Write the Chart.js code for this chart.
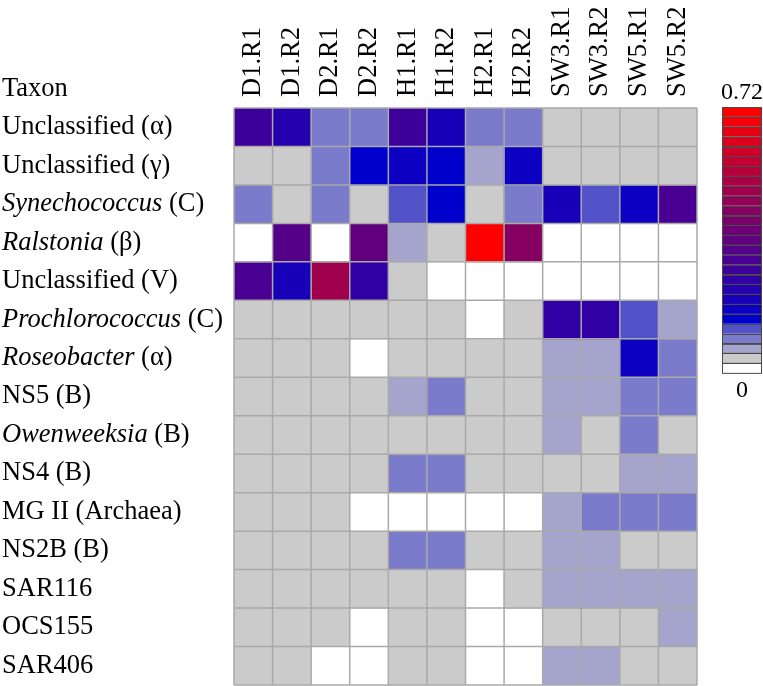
<!DOCTYPE html>
<html lang="en">
<head>
  <meta charset="UTF-8">
  <title>Taxon heatmap</title>
  <script src="https://cdn.jsdelivr.net/npm/chart.js"></script>
  <style>
    * { margin: 0; padding: 0; box-sizing: border-box; }
    body { background: #fff; width: 763px; height: 686px; overflow: hidden; }
    canvas { display: block; }
  </style>
</head>
<body>
  <canvas id="heatmap" width="763" height="686"></canvas>

  <script>
    const columns = ['D1.R1', 'D1.R2', 'D2.R1', 'D2.R2', 'H1.R1', 'H1.R2', 'H2.R1', 'H2.R2', 'SW3.R1', 'SW3.R2', 'SW5.R1', 'SW5.R2'];

    const taxa = ['Unclassified (α)', 'Unclassified (γ)', 'Synechococcus (C)', 'Ralstonia (β)', 'Unclassified (V)',
      'Prochlorococcus (C)', 'Roseobacter (α)', 'NS5 (B)', 'Owenweeksia (B)', 'NS4 (B)', 'MG II (Archaea)',
      'NS2B (B)', 'SAR116', 'OCS155', 'SAR406'];

    // genus part of the label that is set in italics
    const italicPart = ['', '', 'Synechococcus', 'Ralstonia', '', 'Prochlorococcus', 'Roseobacter', '',
      'Owenweeksia', '', '', '', '', '', ''];

    // relative abundance, one row per taxon, one value per sample
    const unclassAlpha = [0.28, 0.227, 0.093, 0.093, 0.28, 0.2, 0.093, 0.093, 0.04, 0.04, 0.04, 0.04];
    const unclassGamma = [0.04, 0.04, 0.093, 0.147, 0.173, 0.147, 0.067, 0.173, 0.04, 0.04, 0.04, 0.04];
    const synechococcus = [0.093, 0.04, 0.093, 0.04, 0.12, 0.147, 0.04, 0.093, 0.2, 0.12, 0.173, 0.307];
    const ralstonia = [0, 0.333, 0, 0.36, 0.067, 0.04, 0.707, 0.44, 0, 0, 0, 0];
    const unclassV = [0.307, 0.2, 0.493, 0.253, 0.04, 0, 0, 0, 0, 0, 0, 0];
    const prochlorococcus = [0.04, 0.04, 0.04, 0.04, 0.04, 0.04, 0, 0.04, 0.253, 0.253, 0.12, 0.067];
    const roseobacter = [0.04, 0.04, 0.04, 0, 0.04, 0.04, 0.04, 0.04, 0.067, 0.067, 0.173, 0.093];
    const ns5 = [0.04, 0.04, 0.04, 0.04, 0.067, 0.093, 0.04, 0.04, 0.067, 0.067, 0.093, 0.093];
    const owenweeksia = [0.04, 0.04, 0.04, 0.04, 0.04, 0.04, 0.04, 0.04, 0.067, 0.04, 0.093, 0.04];
    const ns4 = [0.04, 0.04, 0.04, 0.04, 0.093, 0.093, 0.04, 0.04, 0.04, 0.04, 0.067, 0.067];
    const mg2 = [0.04, 0.04, 0.04, 0, 0, 0, 0, 0, 0.067, 0.093, 0.093, 0.093];
    const ns2b = [0.04, 0.04, 0.04, 0.04, 0.093, 0.093, 0.04, 0.04, 0.067, 0.067, 0.04, 0.04];
    const sar116 = [0.04, 0.04, 0.04, 0.04, 0.04, 0.04, 0, 0.04, 0.067, 0.067, 0.067, 0.067];
    const ocs155 = [0.04, 0.04, 0.04, 0, 0.04, 0.04, 0, 0, 0.04, 0.04, 0.04, 0.067];
    const sar406 = [0.04, 0.04, 0, 0, 0.04, 0.04, 0, 0, 0.067, 0.067, 0.04, 0.04];

    const rows = [unclassAlpha, unclassGamma, synechococcus, ralstonia, unclassV, prochlorococcus, roseobacter,
      ns5, owenweeksia, ns4, mg2, ns2b, sar116, ocs155, sar406];

    const scaleMin = 0;
    const scaleMax = 0.72;
    const scaleLabels = ['0', '0.72'];
    const nBins = 27;

    // white, grey, three lavenders, blue, then blue -> red
    function binColor(i) {
      const fixed = ['#ffffff', '#cbcbcb', '#a4a4cc', '#7b7bcb', '#5252c9', '#0000cc'];
      if (i < fixed.length) return fixed[i];
      const t = (i - 5) / (nBins - 6);
      return `rgb(${Math.round(255 * t)},0,${Math.round(204 * (1 - t))})`;
    }

    function colorFor(v) {
      let bin = Math.floor((v - scaleMin) / (scaleMax - scaleMin) * nBins);
      bin = Math.max(0, Math.min(nBins - 1, bin));
      return binColor(bin);
    }

    const FONT = '"Liberation Serif", "Times New Roman", serif';
    const LABEL_SIZE = 26.5;

    const cellGrid = {
      id: 'cellGrid',
      afterDatasetsDraw(chart) {
        const { ctx, scales: { x, y } } = chart;
        const cw = x.getPixelForValue(1) - x.getPixelForValue(0);
        ctx.save();
        ctx.strokeStyle = '#a9a9a9';
        ctx.lineWidth = 1.5;
        ctx.beginPath();
        for (let j = 0; j <= columns.length; j++) {
          const px = x.getPixelForValue(0) - cw / 2 + j * cw;
          ctx.moveTo(px, y.getPixelForValue(0));
          ctx.lineTo(px, y.getPixelForValue(taxa.length));
        }
        for (let r = 0; r <= taxa.length; r++) {
          const py = y.getPixelForValue(r);
          ctx.moveTo(x.getPixelForValue(0) - cw / 2, py);
          ctx.lineTo(x.getPixelForValue(columns.length - 1) + cw / 2, py);
        }
        ctx.stroke();
        ctx.restore();
      }
    };

    const labelsPlugin = {
      id: 'labels',
      afterDraw(chart) {
        const { ctx, scales: { x, y } } = chart;
        ctx.save();
        ctx.fillStyle = '#000';
        ctx.textBaseline = 'middle';
        ctx.textAlign = 'left';

        // row labels
        ctx.font = `${LABEL_SIZE}px ${FONT}`;
        ctx.fillText('Taxon', 2, y.getPixelForValue(-0.5));
        taxa.forEach((t, r) => {
          const py = y.getPixelForValue(r + 0.5);
          let px = 2;
          const it = italicPart[r];
          if (it) {
            ctx.font = `italic ${LABEL_SIZE}px ${FONT}`;
            ctx.fillText(it, px, py);
            px += ctx.measureText(it).width;
          }
          ctx.font = `${LABEL_SIZE}px ${FONT}`;
          ctx.fillText(t.slice(it.length), px, py);
        });

        // column labels, rotated
        ctx.font = `${LABEL_SIZE}px ${FONT}`;
        columns.forEach((c, j) => {
          ctx.save();
          ctx.translate(x.getPixelForValue(j), 97);
          ctx.rotate(-Math.PI / 2);
          ctx.fillText(c, 0, 0);
          ctx.restore();
        });

        // colour key
        const kx = 722, kw = 40, ktop = 107, kbot = 373;
        const bh = (kbot - ktop) / nBins;
        for (let i = 0; i < nBins; i++) {
          const top = kbot - (i + 1) * bh;
          ctx.fillStyle = binColor(i);
          ctx.fillRect(kx, top, kw, bh);
        }
        ctx.strokeStyle = '#4a4a4a';
        ctx.lineWidth = 1;
        for (let i = 0; i < nBins; i++) {
          const top = kbot - (i + 1) * bh;
          ctx.strokeRect(kx + 0.5, Math.round(top) + 0.5, kw - 1, bh);
        }
        ctx.fillStyle = '#000';
        ctx.font = `24px ${FONT}`;
        ctx.textAlign = 'center';
        ctx.fillText(scaleLabels[1], kx + kw / 2, 93);
        ctx.fillText(scaleLabels[0], kx + kw / 2, 391);
        ctx.restore();
      }
    };

    new Chart(document.getElementById('heatmap'), {
      type: 'bar',
      data: {
        labels: columns,
        datasets: taxa.map((t, r) => ({
          label: t,
          data: columns.map(() => [r, r + 1]),
          backgroundColor: rows[r].map(colorFor),
          borderWidth: 0,
          barPercentage: 1,
          categoryPercentage: 1,
          grouped: false
        }))
      },
      options: {
        responsive: false,
        animation: false,
        devicePixelRatio: 1,
        layout: { padding: { left: 234, right: 66, top: 108, bottom: 1 } },
        scales: {
          x: { display: false, offset: true },
          y: { display: false, min: 0, max: taxa.length, reverse: true }
        },
        plugins: {
          legend: { display: false },
          tooltip: { enabled: false }
        }
      },
      plugins: [cellGrid, labelsPlugin]
    });
  </script>
</body>
</html>
